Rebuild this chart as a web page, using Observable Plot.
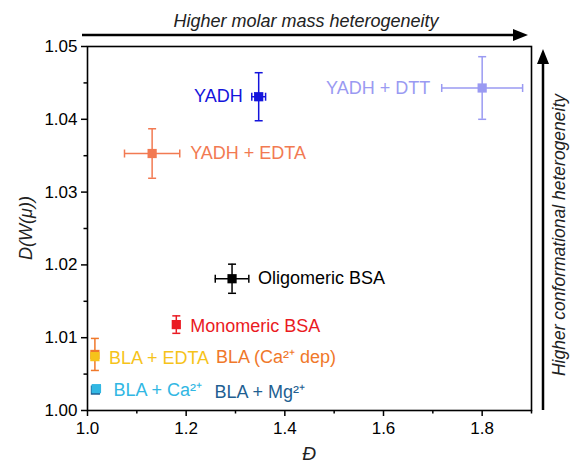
<!DOCTYPE html>
<html>
<head>
<meta charset="utf-8">
<script src="https://cdn.jsdelivr.net/npm/d3@7"></script>
<script src="https://cdn.jsdelivr.net/npm/@observablehq/plot@0.6"></script>
<style>
  html, body { margin: 0; padding: 0; background: #fff; }
  #chart svg { display: block; }
</style>
</head>
<body>
<div id="chart"></div>
<script>
// ---- data ----
const samples = ["BLA + Mg²⁺", "BLA + Ca²⁺", "BLA (Ca²⁺ dep)", "BLA + EDTA", "Monomeric BSA", "Oligomeric BSA", "YADH + EDTA", "YADH", "YADH + DTT"];
const dispersity = [1.016, 1.018, 1.015, 1.015, 1.180, 1.293, 1.131, 1.347, 1.800];
const dispersityErr = [0.006, 0.008, 0.003, 0.003, 0.004, 0.034, 0.056, 0.014, 0.082];
const dW = [1.0028, 1.0030, 1.0077, 1.0074, 1.0118, 1.0181, 1.0353, 1.0431, 1.0443];
const dWErr = [0.0003, 0.0003, 0.0022, 0.0005, 0.0012, 0.0020, 0.0034, 0.0033, 0.0043];
const xMajorTicks = [1.0, 1.2, 1.4, 1.6, 1.8];
const xMinorTicks = [1.1, 1.3, 1.5, 1.7, 1.9];
const yMajorTicks = [1.00, 1.01, 1.02, 1.03, 1.04, 1.05];
const yMinorTicks = [1.005, 1.015, 1.025, 1.035, 1.045];

// ---- styling / layout ----
const colors = ["#1f5f92", "#31b7e3", "#f0782a", "#f6c31a", "#ea1a22", "#000000", "#f27a52", "#1414dc", "#9a9af2"];
const labelAnchor = ["start", "start", "start", "start", "start", "start", "start", "end", "end"];
const labelDx = [119, 17, 121, 14, 14, 26, 38, -16, -52];
const labelDy = [2, 2, 3, 2, 2, 0, 0, 0, 0];

const rows = samples.map((s, i) => ({
  name: s, x: dispersity[i], xe: dispersityErr[i], y: dW[i], ye: dWErr[i],
  color: colors[i], anchor: labelAnchor[i], dx: labelDx[i], dy: labelDy[i]
}));

const hCap = {draw(ctx, size) { const w = Math.sqrt(size / Math.PI); ctx.moveTo(-w, 0); ctx.lineTo(w, 0); }};
const vCap = {draw(ctx, size) { const w = Math.sqrt(size / Math.PI); ctx.moveTo(0, -w); ctx.lineTo(0, w); }};

const W = 571, H = 468;
const mL = 87, mR = 40, mT = 46, mB = 58;
const FONT = "'Liberation Sans', Arial, Helvetica, sans-serif";

const marks = [
  Plot.frame({stroke: "#000", strokeWidth: 1.6}),
  Plot.axisX(xMajorTicks, {tickSize: 6, tickPadding: 5, tickFormat: d => d.toFixed(1), fontSize: 17, label: null, strokeWidth: 1.5}),
  Plot.axisX(xMinorTicks, {tickSize: 3.5, tickFormat: () => "", label: null, strokeWidth: 1.5}),
  Plot.axisY(yMajorTicks, {tickSize: 6, tickPadding: 4, tickFormat: d => d.toFixed(2), fontSize: 17, label: null, strokeWidth: 1.5}),
  Plot.axisY(yMinorTicks, {tickSize: 3.5, tickFormat: () => "", label: null, strokeWidth: 1.5})
];

for (const r of rows) {
  const d = [r];
  marks.push(
    Plot.ruleX(d, {x: "x", y1: v => v.y - v.ye, y2: v => v.y + v.ye, stroke: r.color, strokeWidth: 1.5}),
    Plot.ruleY(d, {y: "y", x1: v => v.x - v.xe, x2: v => v.x + v.xe, stroke: r.color, strokeWidth: 1.5}),
    Plot.dot(d, {x: "x", y: v => v.y - v.ye, symbol: hCap, r: 4, stroke: r.color, strokeWidth: 1.5, fill: "none"}),
    Plot.dot(d, {x: "x", y: v => v.y + v.ye, symbol: hCap, r: 4, stroke: r.color, strokeWidth: 1.5, fill: "none"}),
    Plot.dot(d, {x: v => v.x - v.xe, y: "y", symbol: vCap, r: 4, stroke: r.color, strokeWidth: 1.5, fill: "none"}),
    Plot.dot(d, {x: v => v.x + v.xe, y: "y", symbol: vCap, r: 4, stroke: r.color, strokeWidth: 1.5, fill: "none"}),
    Plot.dot(d, {x: "x", y: "y", symbol: "square", r: 5.2, fill: r.color, stroke: "none"}),
    Plot.text(d, {x: "x", y: "y", text: "name", fill: r.color, textAnchor: r.anchor, dx: r.dx, dy: r.dy, fontSize: 18})
  );
}

const chart = Plot.plot({
  width: W, height: H,
  marginLeft: mL, marginRight: mR, marginTop: mT, marginBottom: mB,
  x: {domain: [1.0, 1.9]},
  y: {domain: [1.0, 1.05]},
  style: {fontFamily: FONT, fontSize: "16px", background: "#fff", color: "#000", overflow: "visible"},
  marks
});

const svg = d3.select(chart);
const ax = svg.append("g").attr("font-family", FONT).attr("fill", "#222");

// axis titles
ax.append("text").attr("x", mL + (W - mL - mR) / 2).attr("y", 460)
  .attr("text-anchor", "middle").attr("font-style", "italic").attr("font-size", 19).text("Đ");
ax.append("text").attr("transform", `translate(32,${mT + (H - mT - mB) / 2}) rotate(-90)`)
  .attr("text-anchor", "middle").attr("font-style", "italic").attr("font-size", 18).text("D(W(μ))");

// top arrow + label
ax.append("text").attr("x", 306).attr("y", 27).attr("text-anchor", "middle")
  .attr("font-style", "italic").attr("font-size", 18).text("Higher molar mass heterogeneity");
ax.append("line").attr("x1", 82).attr("x2", 516).attr("y1", 35).attr("y2", 35)
  .attr("stroke", "#000").attr("stroke-width", 2.5);
ax.append("path").attr("d", "M528,35 L513,29 L513,41 Z").attr("fill", "#000");

// right arrow + label
ax.append("line").attr("x1", 543).attr("x2", 543).attr("y1", 410).attr("y2", 60)
  .attr("stroke", "#000").attr("stroke-width", 2.5);
ax.append("path").attr("d", "M543,49 L537,64 L549,64 Z").attr("fill", "#000");
ax.append("text").attr("transform", "translate(565,235) rotate(-90)").attr("text-anchor", "middle")
  .attr("font-style", "italic").attr("font-size", 17.5).text("Higher conformational heterogeneity");

document.getElementById("chart").appendChild(chart);
</script>
</body>
</html>
